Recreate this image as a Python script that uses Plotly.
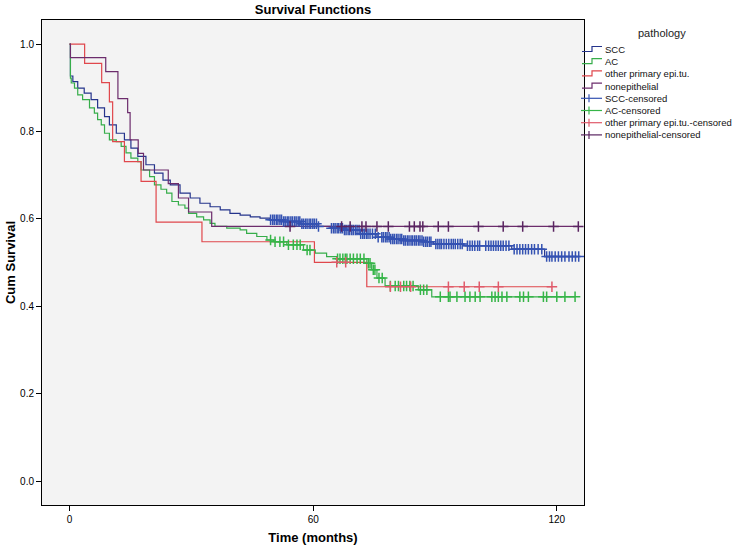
import numpy as np
import plotly.graph_objects as go

# Kaplan-Meier steps: time (months) and cum survival after each drop
scc_time = [0, 0.2, 0.8, 2.0, 3.6, 5.3, 6.9, 8.6, 9.8, 11.5, 13.5, 15.1, 16.8, 18.8, 20.9,
            23.0, 24.8, 27.2, 29.7, 32.1, 34.6, 37.1, 39.5, 42.0, 44.5, 46.9, 49.4, 52.7,
            56.8, 60.9, 64.2, 67.4, 71.6, 75.7, 78.9, 82.2, 87.1, 89.6, 97.0, 108.9, 117.0]
scc_surv = [1.0, 0.927, 0.914, 0.899, 0.888, 0.873, 0.854, 0.834, 0.815, 0.796, 0.781, 0.762,
            0.743, 0.724, 0.705, 0.689, 0.678, 0.659, 0.648, 0.636, 0.628, 0.621, 0.613, 0.609,
            0.605, 0.602, 0.598, 0.594, 0.589, 0.583, 0.579, 0.575, 0.566, 0.558, 0.554, 0.551,
            0.548, 0.543, 0.539, 0.531, 0.514]
scc_cens = [49.5, 50.0, 50.4, 50.9, 51.3, 51.8, 52.2, 52.7, 53.1, 53.6, 54.0, 54.5, 54.9, 55.4,
            55.8, 56.3, 56.7, 57.2, 57.6, 58.1, 58.5, 59.0, 59.4, 59.9, 60.3, 60.8, 61.3,
            64.5, 65.0, 65.4, 65.9, 66.3, 66.8, 67.2, 67.7, 68.1, 68.6, 69.0, 69.5, 69.9, 70.4,
            70.8, 71.3, 71.7, 72.2, 72.6, 73.1, 73.5, 74.0, 74.6, 75.3, 76.0,
            76.9, 77.3, 77.8, 78.2, 78.7, 79.1, 79.6, 80.0, 80.5, 80.9, 81.4, 81.8, 82.3, 82.7,
            83.2, 83.6, 84.1, 84.5, 85.0, 85.4, 85.9, 86.3, 86.8, 87.2, 87.7, 88.1, 88.6, 89.0,
            90.2, 90.7, 91.2, 91.6, 92.2, 92.8, 93.4, 94.0, 94.5, 95.0, 95.6, 96.2, 96.7,
            98.0, 98.6, 99.2, 99.8, 100.5, 101.0, 102.5, 103.2, 103.8, 104.4, 105.0, 105.6, 106.2,
            106.8, 107.5, 108.2, 109.5, 110.2, 110.9, 111.6, 112.3, 113.0, 113.8, 114.5, 115.4,
            116.3, 117.5, 118.2, 118.8, 119.6, 120.4, 121.2, 122.0, 123.0, 123.8, 124.6, 125.4]

ac_time = [0, 0.2, 0.4, 1.2, 2.0, 3.2, 4.9, 6.1, 6.9, 7.8, 8.6, 9.8, 11.5, 12.7, 13.9, 15.1,
           16.8, 17.6, 19.7, 20.9, 22.5, 23.9, 25.2, 26.8, 28.4, 29.3, 31.3, 33.0, 34.6, 35.8,
           38.7, 42.0, 43.6, 46.1, 48.6, 50.2, 53.5, 57.6, 60.5, 63.3, 65.8, 73.2, 74.4, 75.7,
           77.7, 85.9, 89.2]
ac_surv = [1.0, 0.922, 0.911, 0.899, 0.884, 0.873, 0.854, 0.842, 0.827, 0.815, 0.796, 0.781,
           0.777, 0.766, 0.751, 0.739, 0.731, 0.712, 0.697, 0.678, 0.668, 0.659, 0.640, 0.632,
           0.625, 0.613, 0.605, 0.598, 0.590, 0.583, 0.579, 0.575, 0.567, 0.560, 0.552, 0.548,
           0.541, 0.529, 0.522, 0.514, 0.509, 0.499, 0.484, 0.465, 0.447, 0.438, 0.422]
ac_cens = [49.5, 50.6, 51.8, 52.7, 53.9, 55.1, 56.0, 56.8, 58.5, 59.2, 66.0, 66.6, 67.3, 67.9,
           68.3, 69.1, 69.9, 70.8, 71.6, 72.5, 73.6, 74.0, 74.8, 75.2, 76.2, 77.0, 79.0, 80.2,
           81.0, 82.3, 83.0, 83.8, 84.6, 86.4, 87.2, 88.0, 91.3, 93.3, 93.7, 95.4, 97.4, 98.6,
           99.9, 101.1, 104.0, 104.8, 105.6, 106.5, 107.7, 110.9, 111.8, 113.0, 116.7, 117.5,
           120.0, 122.0, 124.5]

oth_time = [0, 3.7, 7.9, 9.8, 10.6, 13.5, 17.6, 21.3, 32.6, 60.3, 73.2]
oth_surv = [1.0, 0.956, 0.912, 0.868, 0.777, 0.731, 0.686, 0.593, 0.548, 0.501, 0.445]
oth_cens = [65.8, 68.0, 79.0, 81.5, 84.0, 93.3, 97.2, 100.9, 105.6, 118.8]

nep_time = [0, 0.2, 8.9, 11.9, 14.3, 14.9, 16.9, 18.2, 24.3, 26.8, 29.3, 35.0]
nep_surv = [1.0, 0.969, 0.937, 0.875, 0.843, 0.781, 0.750, 0.712, 0.681, 0.648, 0.616, 0.583]
nep_cens = [54.3, 67.0, 69.1, 72.0, 73.0, 75.7, 78.5, 83.7, 84.9, 86.3, 87.0, 90.8, 93.3,
            100.7, 106.8, 111.6, 119.2, 125.3]

groups = ['SCC', 'AC', 'other primary epi.tu.', 'nonepithelial']
line_colors = ['#25348c', '#36ad4a', '#e0474c', '#6c2c6c']
cens_colors = ['#3452b2', '#36b548', '#e05a6a', '#5a2461']

W, H = 738, 549
L, R, T, B = 42, 154, 20, 44


def px(x):
    return (x - L) / (W - L - R)


def py(y):
    return 1 - (y - T) / (H - T - B)


def step_value(times, surv, t):
    idx = np.searchsorted(times, t, side='right') - 1
    return np.array(surv)[idx]


data = [(scc_time, scc_surv, scc_cens), (ac_time, ac_surv, ac_cens),
        (oth_time, oth_surv, oth_cens), (nep_time, nep_surv, nep_cens)]

fig = go.Figure()
for (t, s, c), name, col in zip(data, groups, line_colors):
    # curve runs on to the last censored case
    fig.add_trace(go.Scatter(x=t + [max(c)], y=s + [s[-1]], mode='lines', name=name,
                             line=dict(color=col, width=1.2, shape='hv'), showlegend=False))
for (t, s, c), name, col in zip(data, groups, cens_colors):
    fig.add_trace(go.Scatter(x=c, y=step_value(t, s, c), mode='markers', name=name + '-censored',
                             marker=dict(symbol='cross-thin', size=7.5, line=dict(color=col, width=1.5)),
                             showlegend=False))

# legend drawn by hand so that the rows sit as tight as in the original
shapes = []
annotations = [dict(text='pathology', x=px(662), y=py(33), xref='paper', yref='paper',
                    showarrow=False, font=dict(size=11, color='#222'),
                    xanchor='center', yanchor='middle')]
labels = groups + [g + '-censored' for g in groups]
for i, lab in enumerate(labels):
    yc = 49.5 + i * 12.2
    if i < 4:
        col = line_colors[i]
        shapes.append(dict(type='path', xref='paper', yref='paper',
                           path='M %f,%f L %f,%f L %f,%f L %f,%f' % (
                               px(582), py(yc + 2), px(592), py(yc + 2),
                               px(592), py(yc - 3), px(602), py(yc - 3)),
                           line=dict(color=col, width=1.2)))
    else:
        col = cens_colors[i - 4]
        shapes.append(dict(type='line', xref='paper', yref='paper', x0=px(581), x1=px(602),
                           y0=py(yc), y1=py(yc), line=dict(color=col, width=1.2)))
        shapes.append(dict(type='line', xref='paper', yref='paper', x0=px(589), x1=px(589),
                           y0=py(yc - 4), y1=py(yc + 4), line=dict(color=col, width=1.2)))
    annotations.append(dict(text=lab, x=px(603), y=py(yc), xref='paper', yref='paper',
                            showarrow=False, xanchor='left', yanchor='middle',
                            font=dict(size=9.5, color='#111')))

fig.update_layout(
    width=W, height=H, autosize=False,
    margin=dict(l=L, r=R, t=T, b=B, autoexpand=False),
    paper_bgcolor='white', plot_bgcolor='#f3f3f3',
    font=dict(family='Liberation Sans, Arial, sans-serif', size=10, color='black'),
    title=dict(text='<b>Survival Functions</b>', x=0.5, xref='paper', xanchor='center',
               y=1 - 9 / H, yref='container', yanchor='middle', font=dict(size=13)),
    shapes=shapes, annotations=annotations,
    showlegend=False,
)
fig.update_xaxes(range=[-6.8, 126.7], tickvals=[0, 60, 120], ticks='outside', ticklen=5,
                 tickcolor='black', showline=True, linecolor='black', linewidth=1, mirror=True,
                 showgrid=False, zeroline=False, automargin=False,
                 title=dict(text='<b>Time (months)</b>', font=dict(size=13), standoff=8))
fig.update_yaxes(range=[-0.054, 1.055], tick0=0, dtick=0.2, tickformat='.1f', ticks='outside',
                 ticklen=5, tickcolor='black', showline=True, linecolor='black', linewidth=1,
                 mirror=True, showgrid=False, zeroline=False, automargin=False,
                 title=dict(text='<b>Cum Survival</b>', font=dict(size=13), standoff=1))

# the page body has a default margin that would push the fixed-size figure off the window
fig.write_html("out.html", config={'displayModeBar': False},
               post_script="document.body.style.margin = '0';")
